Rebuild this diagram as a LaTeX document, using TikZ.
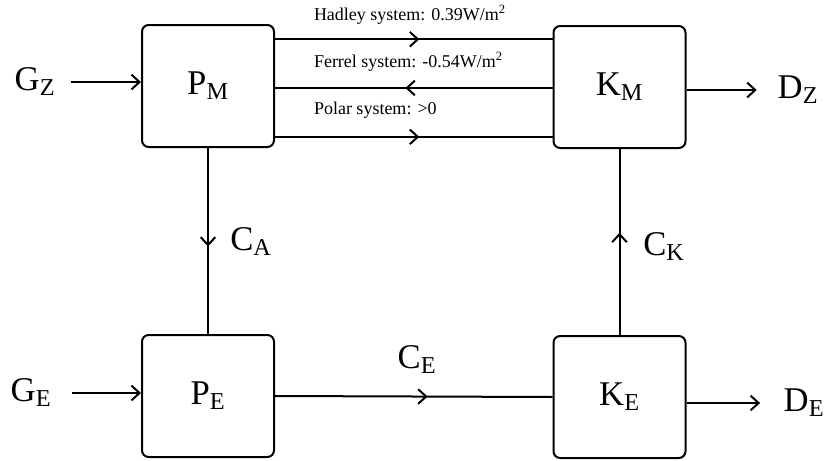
\documentclass[tikz,border=0pt]{standalone}
\usepackage{fontspec}
\setmainfont{Liberation Serif}
\usetikzlibrary{arrows.meta,positioning,calc,decorations.markings}

\begin{document}
\begin{tikzpicture}[
  x=0.75pt, y=-0.75pt,
  line width=1.5pt,
  box/.style={rectangle, rounded corners=5pt, draw, minimum width=99pt,
              minimum height=91.5pt, font=\fontsize{26}{30}\selectfont},
  lbl/.style={font=\fontsize{26}{30}\selectfont, inner sep=0pt},
  sys/.style={font=\fontsize{13.5}{16}\selectfont, anchor=west, inner sep=0pt},
  arr/.style={-{Straight Barb[length=6pt,width=11pt]}},
  midarr/.style={postaction={decorate}, decoration={markings,
                 mark=at position #1 with {\arrow{Straight Barb[length=6pt,width=11pt]}}}}
]
\useasboundingbox (0,0) rectangle (826,461);
% energy boxes
\node[box] (pm) at (208,86)    {P\textsubscript{M}};
\node[box] (km) at (619.5,87)  {K\textsubscript{M}};
\node[box] (pe) at (208,396)   {P\textsubscript{E}};
\node[box] (ke) at (619.5,397) {K\textsubscript{E}};
% sources and sinks
\node[lbl] (gz) at (35,82)  {G\textsubscript{Z}};
\node[lbl] (ge) at (31,393) {G\textsubscript{E}};
\node[lbl] (dz) at (798,90) {D\textsubscript{Z}};
\node[lbl] (de) at (804,403) {D\textsubscript{E}};
% conversions
\node[lbl] (ca) at (251,242) {C\textsubscript{A}};
\node[lbl] (ck) at (664,247) {C\textsubscript{K}};
\node[lbl] (ce) at (417,360) {C\textsubscript{E}};
% meridional cells
\node[sys] (hadley) at (313,15)  {Hadley system: 0.39W/m\textsuperscript{2}};
\node[sys] (ferrel) at (313,62)  {Ferrel system: -0.54W/m\textsuperscript{2}};
\node[sys] (polar)  at (313,110) {Polar system: >0};
\coordinate (h1) at ($(pm.north east)!0.123!(pm.south east)$);
\coordinate (f1) at ($(pm.north east)!0.516!(pm.south east)$);
\coordinate (p1) at ($(pm.north east)!0.91!(pm.south east)$);
\draw[midarr=0.52] (h1) -- (h1 -| km.west);
\draw[midarr=0.53] (f1 -| km.west) -- (f1);
\draw[midarr=0.52] (p1) -- (p1 -| km.west);
% flows
\draw[arr, shorten <=11pt] (gz.east) -- (gz.east -| pm.west);
\draw[arr, shorten <=15pt] (ge.east) -- (ge.east -| pe.west);
\draw[arr, shorten >=15pt] (dz.west -| km.east) -- (dz.west);
\draw[arr, shorten >=17pt] (de.west -| ke.east) -- (de.west);
\draw[midarr=0.53] (pm.south) -- (pe.north);
\draw[midarr=0.55] (ke.north) -- (km.south);
\draw[midarr=0.55] (pe.east) -- (ke.west);
\end{tikzpicture}
\end{document}
